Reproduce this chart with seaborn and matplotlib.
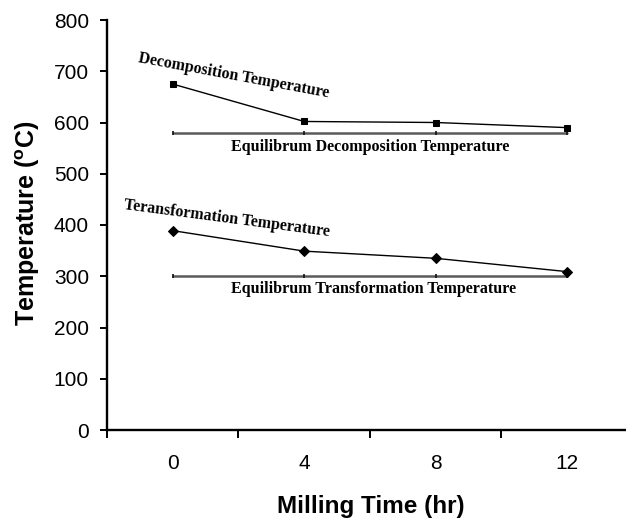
import matplotlib
matplotlib.use("Agg")
import matplotlib.pyplot as plt
import seaborn as sns
import pandas as pd
import numpy as np

milling_time = ["0", "4", "8", "12"]
decomposition = [675, 602, 600, 590]
transformation = [389, 349, 335, 309]
eq_decomposition = [580, 580, 580, 580]
eq_transformation = [300, 300, 300, 300]
y_ticks = [0, 100, 200, 300, 400, 500, 600, 700, 800]

sns.set_style("ticks")
plt.rcParams['font.family'] = ['Liberation Sans', 'DejaVu Sans']
plt.rcParams['text.color'] = 'black'
plt.rcParams['axes.labelcolor'] = 'black'
plt.rcParams['xtick.color'] = 'black'
plt.rcParams['ytick.color'] = 'black'

pos = np.arange(len(milling_time))
df = pd.DataFrame({"pos": pos, "dec": decomposition, "tr": transformation,
                   "eqd": eq_decomposition, "eqt": eq_transformation})

fig = plt.figure(figsize=(6.26, 5.21), dpi=100)
ax = fig.add_axes([107/626, 91/521, 1 - 107/626, 410/521])

sns.lineplot(data=df, x="pos", y="eqd", ax=ax, color="#5a5a5a", lw=1.8,
             marker="|", markersize=3.5, markeredgewidth=1.2, markeredgecolor="#111111")
sns.lineplot(data=df, x="pos", y="eqt", ax=ax, color="#5a5a5a", lw=1.8,
             marker="|", markersize=3.5, markeredgewidth=1.2, markeredgecolor="#111111")
sns.lineplot(data=df, x="pos", y="dec", ax=ax, color="black", lw=1,
             marker="s", markersize=5, markeredgecolor="black", markerfacecolor="black")
sns.lineplot(data=df, x="pos", y="tr", ax=ax, color="black", lw=1,
             marker="D", markersize=5.5, markeredgecolor="black", markerfacecolor="black")

ax.set_xlim(-0.5, 3.447)
ax.set_ylim(0, 800)
ax.set_yticks(y_ticks)
ax.set_yticklabels([str(v) for v in y_ticks], fontsize=15)
ax.set_xticks(np.arange(-0.5, 3.0, 1.0))
ax.set_xticklabels([])
ax.set_xticks(pos, minor=True)
ax.set_xticklabels(milling_time, minor=True, fontsize=15)
ax.tick_params(axis="x", which="minor", length=0, pad=17)
ax.tick_params(axis="x", which="major", length=6, width=1.4, direction="out")
ax.tick_params(axis="y", length=5, width=1.4, direction="out", pad=8)
for s in ["left", "bottom"]:
    ax.spines[s].set_linewidth(1.7)
    ax.spines[s].set_color("black")
sns.despine(ax=ax, top=True, right=True)

ax.set_xlabel("Milling Time (hr)", fontsize=17.5, fontweight="bold")
ax.set_ylabel(r"Temperature ($^{\mathregular{o}}$C)", fontsize=18, fontweight="bold")
ax.xaxis.set_label_coords(0.509, -0.158)
ax.yaxis.set_label_coords(-0.126, 0.505)

serif = ['Liberation Serif', 'DejaVu Serif']
ax.text(-0.26, 726, "Decomposition Temperature", family=serif, fontweight="bold",
        fontsize=11.5, rotation=-10.5, rotation_mode="anchor", ha="left", va="center")
ax.text(-0.37, 439, "Teransformation Temperature", family=serif, fontweight="bold",
        fontsize=11.5, rotation=-7.5, rotation_mode="anchor", ha="left", va="center")
ax.text(1.5, 553, "Equilibrum Decomposition Temperature", family=serif, fontweight="bold",
        fontsize=11.5, ha="center", va="center")
ax.text(1.53, 276, "Equilibrum Transformation Temperature", family=serif, fontweight="bold",
        fontsize=11.5, ha="center", va="center")

fig.savefig("out.png", dpi=100)
